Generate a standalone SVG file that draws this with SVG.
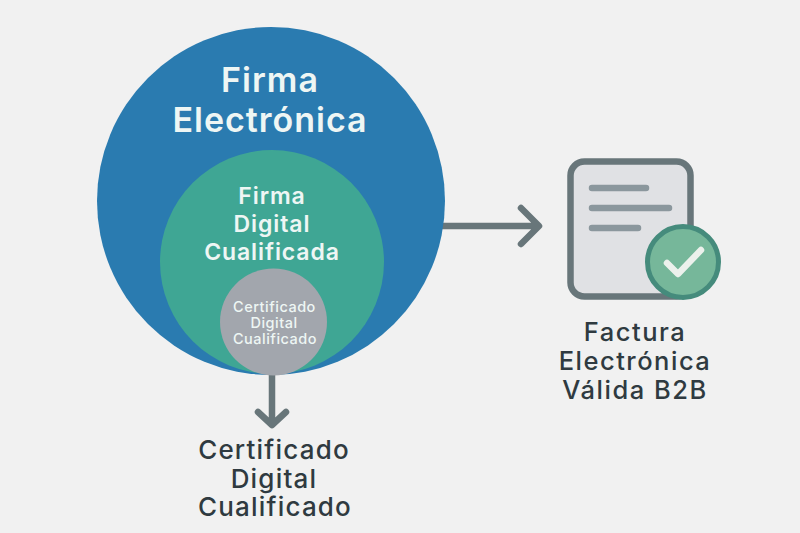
<svg xmlns="http://www.w3.org/2000/svg" width="800" height="533" viewBox="0 0 800 533">
<style>
text{font-family:"Inter","Liberation Sans",sans-serif;text-anchor:middle;font-weight:600}
.w{fill:#eef6f4}.d{fill:#2f3a40;font-weight:500}
.s{font-weight:500}
.con{fill:none;stroke:#68767a;stroke-width:6.5;stroke-linecap:round;stroke-linejoin:round}
</style>
<rect width="800" height="533" fill="#f1f1f1"/>
<g id="connectors">
<path class="con" d="M272 372V424M258 412L272 425L286 412"/>
<path class="con" d="M441 226H537M521 208L539 226L521 244"/>
</g>
<g id="firma-electronica">
<circle cx="271" cy="201" r="174" fill="#2a7bb0"/>
<text class="w" x="270" y="92" font-size="34" letter-spacing="1">Firma</text>
<text class="w" x="270" y="132" font-size="34" letter-spacing="1">Electrónica</text>
</g>
<g id="firma-digital">
<circle cx="272" cy="262" r="112" fill="#3fa694"/>
<text class="w" x="272" y="204" font-size="23" letter-spacing=".9">Firma</text>
<text class="w" x="272" y="232" font-size="23" letter-spacing=".9">Digital</text>
<text class="w" x="272" y="260" font-size="23" letter-spacing=".9">Cualificada</text>
</g>
<g id="certificado">
<circle cx="273.5" cy="322" r="53.5" fill="#a2a6ad"/>
<text class="w s" x="274.5" y="312" font-size="14.5" letter-spacing=".5">Certificado</text>
<text class="w s" x="274" y="328" font-size="14.5" letter-spacing=".5">Digital</text>
<text class="w s" x="275" y="344" font-size="14.5" letter-spacing=".5">Cualificado</text>
</g>
<g id="certificado-label">
<text class="d" x="274" y="459" font-size="26" letter-spacing="1.2">Certificado</text>
<text class="d" x="274" y="488" font-size="26" letter-spacing="1.2">Digital</text>
<text class="d" x="275" y="516" font-size="26" letter-spacing="1.2">Cualificado</text>
</g>
<g id="factura">
<rect x="570.5" y="161.5" width="120" height="135" rx="14" fill="#e0e1e4" stroke="#68767a" stroke-width="6.5"/>
<path d="M592 188H646M592 208H669M592 228H638" stroke="#8b979d" stroke-width="6.5" stroke-linecap="round" fill="none"/>
<circle cx="683" cy="262" r="35.5" fill="#76b79a" stroke="#458b7c" stroke-width="5"/>
<path d="M667 263L678 274L701 250" stroke="#ecf1ec" stroke-width="6.5" stroke-linecap="round" stroke-linejoin="round" fill="none"/>
<text class="d" x="635" y="341" font-size="25.5" letter-spacing="1.5">Factura</text>
<text class="d" x="635" y="370" font-size="25.5" letter-spacing="1.5">Electrónica</text>
<text class="d" x="635" y="399" font-size="25.5" letter-spacing="1.5">Válida B2B</text>
</g>
</svg>
